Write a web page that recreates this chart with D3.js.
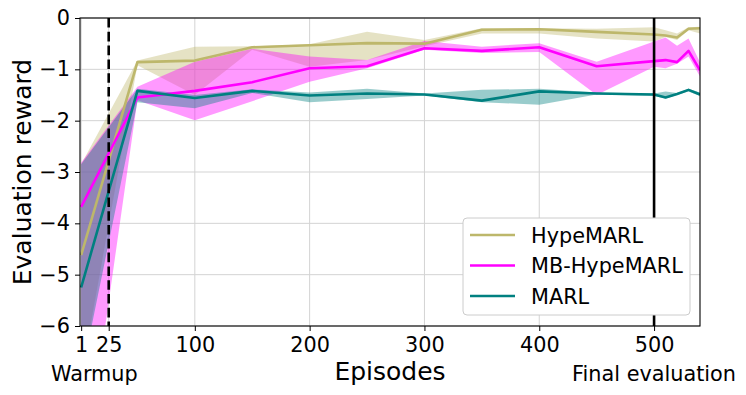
<!DOCTYPE html>
<html>
<head>
<meta charset="utf-8">
<script src="https://cdn.jsdelivr.net/npm/d3@7"></script>
<style>
  body { margin: 0; background: #fff; }
  text { font-family: "DejaVu Sans", sans-serif; fill: #000; }
</style>
</head>
<body>
<svg id="chart" width="746" height="395"></svg>
<script>
/***************************  Data ***************************/
var episodes = [1, 50, 100, 150, 200, 250, 300, 350, 400, 450, 500, 510, 520, 530, 540];

var hypeMean  = [-4.62, -0.86, -0.83, -0.57, -0.53, -0.49, -0.50, -0.23, -0.22, -0.27, -0.32, -0.34, -0.38, -0.21, -0.20];
var hypeUpper = [-2.85, -0.83, -0.56, -0.55, -0.51, -0.27, -0.43, -0.20, -0.20, -0.21, -0.18, -0.24, -0.30, -0.18, -0.17];
var hypeLower = [-7.00, -0.92, -1.50, -0.62, -0.95, -0.82, -0.55, -0.30, -0.30, -0.40, -0.46, -0.37, -0.43, -0.24, -0.30];

var mbMean  = [-3.68, -1.55, -1.42, -1.25, -0.98, -0.94, -0.59, -0.64, -0.57, -0.94, -0.84, -0.82, -0.86, -0.64, -1.02];
var mbUpper = [-2.82, -1.34, -0.85, -0.60, -0.75, -0.82, -0.45, -0.56, -0.49, -0.85, -0.46, -0.38, -0.54, -0.40, -0.86];
var mbLower = [-9.30, -1.60, -1.99, -1.62, -1.24, -0.98, -0.62, -0.68, -0.66, -1.50, -0.95, -0.98, -0.89, -0.75, -1.14];

var marlMean  = [-5.25, -1.42, -1.56, -1.42, -1.51, -1.47, -1.49, -1.61, -1.43, -1.47, -1.49, -1.55, -1.48, -1.40, -1.49];
var marlUpper = [-2.85, -1.38, -1.50, -1.39, -1.45, -1.38, -1.47, -1.40, -1.38, -1.45, -1.47, -1.43, -1.46, -1.38, -1.45];
var marlLower = [-7.00, -1.64, -1.76, -1.46, -1.64, -1.58, -1.51, -1.64, -1.69, -1.49, -1.52, -1.57, -1.50, -1.43, -1.52];

var seriesNames  = ["HypeMARL", "MB-HypeMARL", "MARL"];
var seriesColors = ["#bdb76b", "#ff00ff", "#008080"];

var xTicks = [1, 25, 100, 200, 300, 400, 500];
var yTicks = [-6, -5, -4, -3, -2, -1, 0];
var warmupEpisode = 25;
var finalEpisode = 500;

/***************************  Layout ***************************/
var svg = d3.select("#chart");
var plotLeft = 80, plotRight = 700, plotTop = 18, plotBottom = 326;

var x = d3.scaleLinear().domain([0, 540]).range([plotLeft, plotRight]);
var y = d3.scaleLinear().domain([-6, 0]).range([plotBottom, plotTop]);

function rows(mean, lo, hi) {
    return episodes.map(function(e, i) { return {ep: e, m: mean[i], lo: lo[i], hi: hi[i]}; });
}
var series = [
    rows(hypeMean, hypeLower, hypeUpper),
    rows(mbMean, mbLower, mbUpper),
    rows(marlMean, marlLower, marlUpper)
];

svg.append("defs").append("clipPath").attr("id", "plotclip")
    .append("rect").attr("x", plotLeft).attr("y", plotTop)
    .attr("width", plotRight - plotLeft).attr("height", plotBottom - plotTop);

// grid
var grid = svg.append("g");
grid.selectAll("line.gx").data(xTicks).enter().append("line")
    .attr("x1", function(d) { return x(d); }).attr("x2", function(d) { return x(d); })
    .attr("y1", plotTop).attr("y2", plotBottom)
    .attr("stroke", "#d3d3d3").attr("stroke-width", 1);
grid.selectAll("line.gy").data(yTicks).enter().append("line")
    .attr("y1", function(d) { return y(d); }).attr("y2", function(d) { return y(d); })
    .attr("x1", plotLeft).attr("x2", plotRight)
    .attr("stroke", "#d3d3d3").attr("stroke-width", 1);

var plot = svg.append("g").attr("clip-path", "url(#plotclip)");

var area = d3.area()
    .x(function(d) { return x(d.ep); })
    .y0(function(d) { return y(d.lo); })
    .y1(function(d) { return y(d.hi); });
var line = d3.line()
    .x(function(d) { return x(d.ep); })
    .y(function(d) { return y(d.m); });

// fills go under every line
series.forEach(function(s, i) {
    plot.append("path").attr("d", area(s))
        .attr("fill", seriesColors[i]).attr("fill-opacity", 0.4);
});
series.forEach(function(s, i) {
    plot.append("path").attr("d", line(s))
        .attr("fill", "none").attr("stroke", seriesColors[i])
        .attr("stroke-width", 2.6).attr("stroke-linejoin", "round");
});

// warmup / final evaluation markers
plot.append("line")
    .attr("x1", x(warmupEpisode)).attr("x2", x(warmupEpisode))
    .attr("y1", plotTop).attr("y2", plotBottom)
    .attr("stroke", "#000").attr("stroke-width", 2.6)
    .attr("stroke-dasharray", "9.6,4.2");
plot.append("line")
    .attr("x1", x(finalEpisode)).attr("x2", x(finalEpisode))
    .attr("y1", plotTop).attr("y2", plotBottom)
    .attr("stroke", "#000").attr("stroke-width", 2.6);

/***************************  Axes ***************************/
var xAxis = svg.append("g").attr("transform", "translate(0," + plotBottom + ")")
    .call(d3.axisBottom(x).tickValues(xTicks).tickSize(5).tickPadding(6).tickFormat(d3.format("d")));
var yAxis = svg.append("g").attr("transform", "translate(" + plotLeft + ",0)")
    .call(d3.axisLeft(y).tickValues(yTicks).tickSize(5).tickPadding(5).tickFormat(d3.format("d")));
[xAxis, yAxis].forEach(function(a) {
    a.select(".domain").remove();
    a.selectAll("text").attr("font-size", "20.8px").attr("font-family", "DejaVu Sans").attr("fill", "#000");
    a.selectAll("line").attr("stroke", "#000");
});

svg.append("rect").attr("x", plotLeft).attr("y", plotTop)
    .attr("width", plotRight - plotLeft).attr("height", plotBottom - plotTop)
    .attr("fill", "none").attr("stroke", "#000").attr("stroke-width", 1.1);

svg.append("text").attr("x", (plotLeft + plotRight) / 2).attr("y", 380)
    .attr("text-anchor", "middle").attr("font-size", "25px").text("Episodes");
svg.append("text").attr("transform", "translate(31," + ((plotTop + plotBottom) / 2) + ") rotate(-90)")
    .attr("text-anchor", "middle").attr("font-size", "25px").text("Evaluation reward");

svg.append("text").attr("x", x(12.5)).attr("y", 381)
    .attr("text-anchor", "middle").attr("font-size", "20.8px").text("Warmup");
svg.append("text").attr("x", x(finalEpisode)).attr("y", 381)
    .attr("text-anchor", "middle").attr("font-size", "20.8px").text("Final evaluation");

/***************************  Legend ***************************/
var legend = svg.append("g").attr("transform", "translate(463,218)");
legend.append("rect").attr("width", 227).attr("height", 97).attr("rx", 4)
    .attr("fill", "#fff").attr("stroke", "#cccccc").attr("stroke-width", 1);
seriesNames.forEach(function(name, i) {
    var row = legend.append("g").attr("transform", "translate(0," + (17 + i * 30.5) + ")");
    row.append("line").attr("x1", 7).attr("x2", 52)
        .attr("stroke", seriesColors[i]).attr("stroke-width", 2.6);
    row.append("text").attr("x", 68).attr("y", 7.5)
        .attr("font-size", "20.8px").text(name);
});
</script>
</body>
</html>
